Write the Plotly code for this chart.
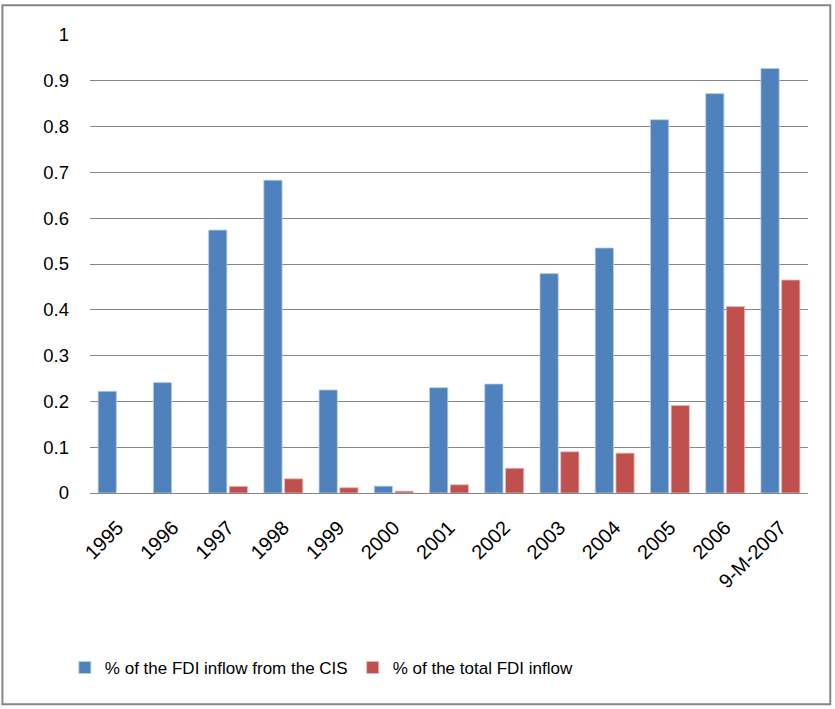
import plotly.graph_objects as go

categories = ["1995", "1996", "1997", "1998", "1999", "2000", "2001", "2002",
              "2003", "2004", "2005", "2006", "9-M-2007"]
cis_share = [0.222, 0.241, 0.574, 0.683, 0.225, 0.015, 0.230, 0.238,
             0.479, 0.535, 0.815, 0.872, 0.927]
total_share = [None, None, 0.0145, 0.031, 0.0116, 0.004, 0.018, 0.054,
               0.090, 0.087, 0.191, 0.407, 0.465]
y_ticks = [0, 0.1, 0.2, 0.3, 0.4, 0.5, 0.6, 0.7, 0.8, 0.9, 1]
y_tick_labels = ["0", "0.1", "0.2", "0.3", "0.4", "0.5", "0.6", "0.7", "0.8", "0.9", "1"]

FONT = "Liberation Sans, Arial, sans-serif"

fig = go.Figure()
fig.add_trace(go.Bar(x=categories, y=cis_share, name="% of the FDI inflow from the CIS",
                     marker=dict(color="#4F81BD", line=dict(color="#B9CDE5", width=0.8))))
fig.add_trace(go.Bar(x=categories, y=total_share, name="% of the total FDI inflow",
                     marker=dict(color="#C0504D", line=dict(color="#E6B9B8", width=0.8))))

fig.update_layout(
    width=835, height=709,
    margin=dict(l=90, r=27, t=35, b=216),
    paper_bgcolor="white", plot_bgcolor="white",
    barmode="group", bargap=0.25, bargroupgap=0.12,
    font=dict(family=FONT, size=18, color="#000000"),
    showlegend=True,
    legend=dict(orientation="h", x=-0.035, xanchor="left", y=-0.382, yanchor="middle",
                font=dict(family=FONT, size=17), itemwidth=30, traceorder="normal"),
    xaxis=dict(type="category", tickangle=-45, showgrid=False, showline=True,
               linecolor="#868686", linewidth=1, ticks="", tickfont=dict(size=20),
               ticklabelstandoff=14),
    yaxis=dict(range=[0, 1], tickvals=y_ticks, ticktext=y_tick_labels,
               showgrid=True, gridcolor="#868686", gridwidth=1, zeroline=False,
               showline=False, ticks="", ticklabelstandoff=20, tickfont=dict(size=18.5)),
    shapes=[dict(type="rect", xref="paper", yref="paper",
                 x0=-0.122, x1=1.031, y0=-0.461, y1=1.065,
                 line=dict(color="#868686", width=2), fillcolor="rgba(0,0,0,0)",
                 layer="below")],
)

fig.write_html("out.html", config={"displayModeBar": False},
               post_script="document.body.style.margin='0px';document.body.style.overflow='hidden';")
